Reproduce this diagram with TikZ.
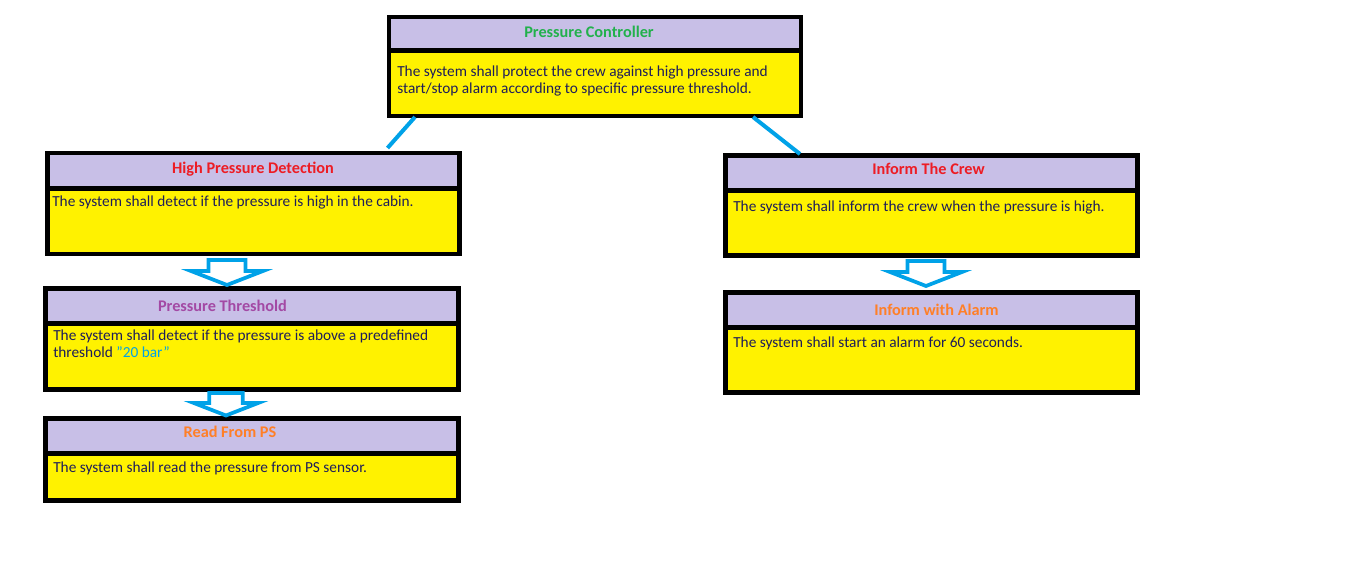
\documentclass[tikz,border=0pt]{standalone}
\usepackage{fontspec}
\setmainfont{Carlito}
\usetikzlibrary{fit,calc}

\definecolor{lav}{RGB}{200,191,231}
\definecolor{hl}{RGB}{255,242,0}
\definecolor{linkblue}{RGB}{0,162,232}
\definecolor{ink}{RGB}{30,30,90}
\definecolor{tgreen}{RGB}{34,177,76}
\definecolor{tred}{RGB}{237,28,36}
\definecolor{tpurple}{RGB}{163,73,164}
\definecolor{torange}{RGB}{255,127,39}

\tikzset{
  downarrow/.pic={
    \path[blockarrow] (-18.5,0) -- (18.5,0) -- (18.5,11) -- (36,11)
      -- (0,25) -- (-36,11) -- (-18.5,11) -- cycle;
  }
}

\begin{document}
\begin{tikzpicture}[x=0.75pt,y=-0.75pt,
  band/.style={draw=black, line width=3.4pt, inner sep=0pt, outer sep=0pt, fill=lav},
  body/.style={draw=black, line width=3.4pt, inner sep=0pt, outer sep=0pt, fill=hl},
  head/.style={font=\fontsize{12.2}{13}\selectfont\bfseries, anchor=base, inner sep=0pt},
  desc/.style={font=\fontsize{11.5}{12.75}\selectfont, text=ink, anchor=base west, inner sep=0pt},
  wire/.style={draw=linkblue, line width=3pt},
  blockarrow/.style={draw=linkblue, line width=2.8pt, fill=white, line join=miter}]

\useasboundingbox (0,0) rectangle (1347,577);

% ---- Pressure Controller
\node[body, fit={(389,50.5) (801,116)}] (pc) {};
\node[band, fit={(389,17) (801,50.5)}] (pct) {};
\node[head, text=tgreen] (pch) at (589,38) {Pressure Controller};
\node[desc] (pcd) at (397,77) {\begin{tabular}[t]{@{}l@{}}The system shall protect the crew against high pressure and\\start/stop alarm according to specific pressure threshold.\end{tabular}};

% ---- High Pressure Detection
\node[body, fit={(47.5,188.5) (459.5,254)}] (hpd) {};
\node[band, fit={(47.5,153) (459.5,188.5)}] (hpdt) {};
\node[head, text=tred] (hpdh) at (253,174) {High Pressure Detection};
\node[desc] (hpdd) at (52,207) {The system shall detect if the pressure is high in the cabin.};

% ---- Pressure Threshold
\node[body, fit={(45.5,323.5) (458.5,389.5)}] (pt) {};
\node[band, fit={(45.5,288.5) (458.5,323.5)}] (ptt) {};
\node[head, text=tpurple] (pth) at (222.5,312) {Pressure Threshold};
\node[desc] (ptd) at (53,341) {\begin{tabular}[t]{@{}l@{}}The system shall detect if the pressure is above a predefined\\threshold \textcolor{linkblue}{\char34 20 bar\char34}\end{tabular}};

% ---- Read From PS
\node[body, fit={(45.5,453.5) (458.5,500.5)}] (rps) {};
\node[band, fit={(45.5,418.5) (458.5,453.5)}] (rpst) {};
\node[head, text=torange] (rpsh) at (230,438) {Read From PS};
\node[desc] (rpsd) at (53,473) {The system shall read the pressure from PS sensor.};

% ---- Inform The Crew
\node[body, fit={(725.5,190.5) (1137.5,255.5)}] (itc) {};
\node[band, fit={(725.5,155.5) (1137.5,190.5)}] (itct) {};
\node[head, text=tred] (itch) at (928.5,175) {Inform The Crew};
\node[desc] (itcd) at (733,212) {The system shall inform the crew when the pressure is high.};

% ---- Inform with Alarm
\node[body, fit={(725.5,327.5) (1137.5,392.5)}] (iwa) {};
\node[band, fit={(725.5,292.5) (1137.5,327.5)}] (iwat) {};
\node[head, text=torange] (iwah) at (936.5,316) {Inform with Alarm};
\node[desc] (iwad) at (733,348) {The system shall start an alarm for 60 seconds.};

% ---- links from the controller to its two sub-requirements
\draw[wire] ($(pc.south west)+(26,1)$) -- ($(hpdt.north east)+(-72,-5)$);
\draw[wire] ($(pc.south east)+(-48,1)$) -- ($(itct.north west)+(74.5,-1.5)$);

% ---- refinement arrows
\pic at (227,260) {downarrow};
\pic[scale=0.9] at (226,393) {downarrow};
\pic at (926,261) {downarrow};

\end{tikzpicture}
\end{document}
